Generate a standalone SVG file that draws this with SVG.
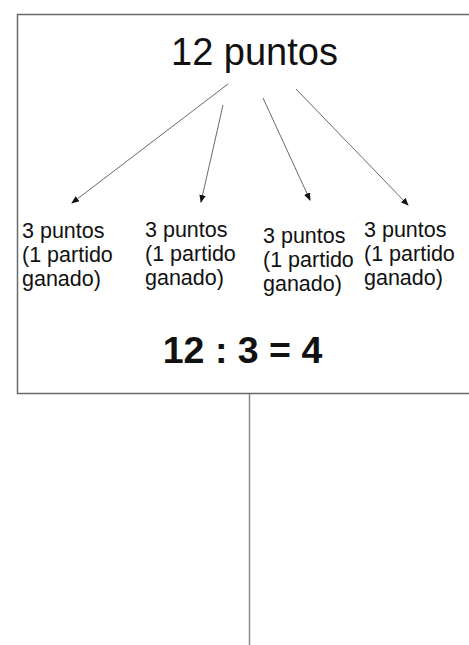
<svg xmlns="http://www.w3.org/2000/svg" width="469" height="645" viewBox="0 0 469 645">
<style>
.t{font-family:"Liberation Sans",Arial,sans-serif;fill:#111}
.s{font-size:21.5px}
.c{stroke:#6a6a6a;stroke-width:1;fill:none}
</style>
<defs>
<marker id="ah" markerWidth="8" markerHeight="8" refX="7" refY="4" orient="auto" markerUnits="userSpaceOnUse">
<path d="M0,0.8 L8,4 L0,7.2 Z" fill="#111"/>
</marker>
</defs>
<rect width="469" height="645" fill="#fff"/>
<g id="frame">
<rect x="17.5" y="14.5" width="470" height="379" fill="#fff" stroke="#6a6a6a" stroke-width="1.5"/>
<line x1="249.5" y1="394" x2="249.5" y2="645" stroke="#8a8a8a" stroke-width="1.5"/>
</g>
<g id="connectors">
<line class="c" x1="228" y1="84" x2="72" y2="203" marker-end="url(#ah)"/>
<line class="c" x1="223" y1="105" x2="201" y2="202" marker-end="url(#ah)"/>
<line class="c" x1="263" y1="98" x2="310" y2="200" marker-end="url(#ah)"/>
<line class="c" x1="296" y1="89" x2="408" y2="205" marker-end="url(#ah)"/>
</g>
<g id="title"><text class="t" x="254.5" y="65" font-size="38" text-anchor="middle">12 puntos</text></g>
<g id="n1"><text class="t s" x="22" y="238">3 puntos<tspan x="22" y="262">(1 partido</tspan><tspan x="22" y="286">ganado)</tspan></text></g>
<g id="n2"><text class="t s" x="145" y="237">3 puntos<tspan x="145" y="261">(1 partido</tspan><tspan x="145" y="285">ganado)</tspan></text></g>
<g id="n3"><text class="t s" x="263" y="243">3 puntos<tspan x="263" y="267">(1 partido</tspan><tspan x="263" y="291">ganado)</tspan></text></g>
<g id="n4"><text class="t s" x="364" y="237">3 puntos<tspan x="364" y="261">(1 partido</tspan><tspan x="364" y="285">ganado)</tspan></text></g>
<g id="eq"><text class="t" x="242.5" y="363" font-size="37.5" font-weight="bold" text-anchor="middle">12 : 3 = 4</text></g>
</svg>
